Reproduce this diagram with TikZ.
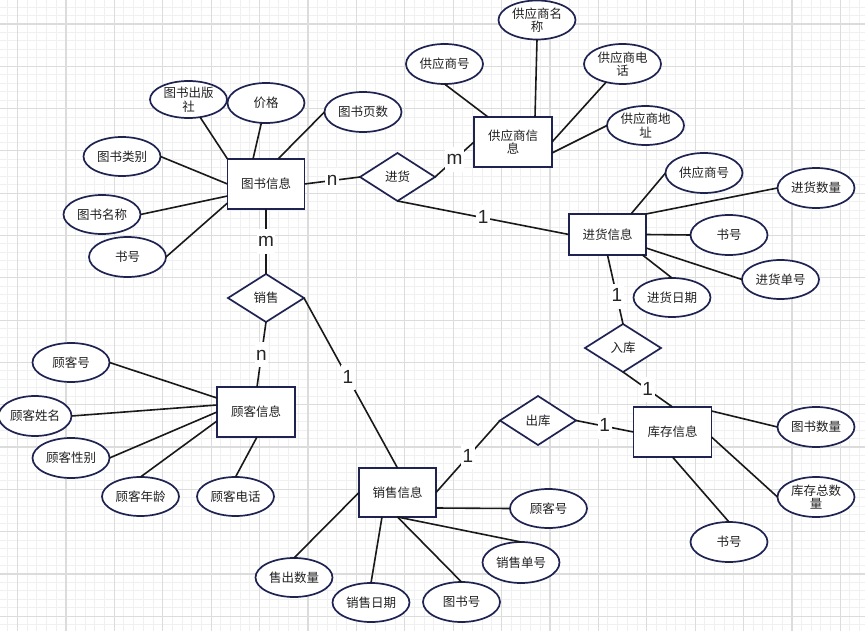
\documentclass[tikz,border=0pt]{standalone}
\usepackage{fontspec}
\newfontfamily\cjk{Noto Sans CJK SC}
\newfontfamily\lab{Liberation Sans}
\usetikzlibrary{shapes.geometric}
\definecolor{ernavy}{HTML}{1E2351}
\definecolor{gridmin}{HTML}{F0F0F0}
\definecolor{gridmaj}{HTML}{DCDCDC}
\definecolor{txt}{HTML}{222222}
\begin{document}
\begin{tikzpicture}[x=1pt,y=-1pt,
 cjkfont/.style={font=\cjk\fontsize{12.5}{13.5}\selectfont},
 attr/.style={ellipse,draw=ernavy,line width=1.7pt,fill=white,minimum width=77pt,minimum height=39pt,inner sep=0pt,outer sep=0pt,cjkfont,text=txt,align=center},
 ent/.style={rectangle,draw=ernavy,line width=1.8pt,fill=white,minimum width=77pt,minimum height=50pt,inner sep=0pt,outer sep=0pt,cjkfont,text=txt,align=center},
 rel/.style={diamond,draw=ernavy,line width=1.7pt,fill=white,minimum width=76pt,minimum height=48pt,inner sep=0pt,outer sep=0pt,shape aspect=1.58,cjkfont,text=txt},
 conn/.style={draw=black!90,line width=1.6pt},
 card/.style={fill=white,font=\lab\fontsize{19}{19}\selectfont,inner xsep=1.5pt,inner ysep=5pt,text height=13pt,text depth=2pt,text=black!85}
]
\useasboundingbox (0,0) rectangle (865,631);
\begin{scope}
\clip (0,0) rectangle (865,631);
\fill[white] (0,0) rectangle (865,631);
\foreach \k in {-2,...,88} \draw[gridmin,line width=1pt] ({17.5+\k*9.68},0) -- ({17.5+\k*9.68},631);
\foreach \k in {-3,...,72} \draw[gridmin,line width=1pt] (0,{24+\k*8.46}) -- (865,{24+\k*8.46});
\foreach \k in {0,...,17} \draw[gridmaj,line width=1.2pt] ({17.5+\k*48.4},0) -- ({17.5+\k*48.4},631);
\foreach \k in {-1,...,14} \draw[gridmaj,line width=1.2pt] (0,{24+\k*42.3}) -- (865,{24+\k*42.3});

% entities
\node[ent] (tsxx) at (266,184) {图书信息};
\node[ent,minimum width=78pt] (gysxx) at (513,142) {供应商信\\息};
\node[ent,minimum height=41pt] (jhxx) at (607.5,234.5) {进货信息};
\node[ent,minimum width=78pt] (kcxx) at (672.5,432) {库存信息};
\node[ent,minimum height=49pt] (xsxx) at (397.5,492.5) {销售信息};
\node[ent,minimum width=78pt] (gkxx) at (256,412) {顾客信息};

% relations
\node[rel,minimum width=75pt] (jh) at (397.5,177) {进货};
\node[rel] (xs) at (266,298) {销售};
\node[rel] (rk) at (623,348) {入库};
\node[rel,minimum height=49pt] (ck) at (538,420.5) {出库};

% attributes of 图书信息
\node[attr,minimum height=37pt] (acbs) at (188.5,99.5) {图书出版\\社};
\node[attr,minimum height=40pt] (ajg) at (266,103) {价格};
\node[attr,minimum height=40pt] (ays) at (363,112) {图书页数};
\node[attr] (alb) at (122,156.5) {图书类别};
\node[attr] (amc) at (102,214.5) {图书名称};
\node[attr,minimum height=40pt] (ash) at (127.5,257) {书号};

% attributes of 供应商信息
\node[attr,minimum height=40pt] (g1) at (444.5,64) {供应商号};
\node[attr] (g2) at (537,20) {供应商名\\称};
\node[attr,minimum height=40pt] (g3) at (622.5,64) {供应商电\\话};
\node[attr] (g4) at (645.5,125.5) {供应商地\\址};

% attributes of 进货信息
\node[attr,minimum height=40pt] (j1) at (704,173) {供应商号};
\node[attr,minimum height=40pt] (j2) at (816,188) {进货数量};
\node[attr,minimum height=40pt] (j3) at (729,235) {书号};
\node[attr] (j4) at (780.5,279.5) {进货单号};
\node[attr] (j5) at (672,297.5) {进货日期};

% attributes of 库存信息
\node[attr,minimum height=40pt] (k1) at (816,427) {图书数量};
\node[attr,minimum height=40pt] (k2) at (816,497) {库存总数\\量};
\node[attr,minimum height=40pt] (k3) at (729,542) {书号};

% attributes of 销售信息
\node[attr] (s1) at (548.5,508.5) {顾客号};
\node[attr,minimum height=41pt] (s2) at (521,562.5) {销售单号};
\node[attr,minimum height=40pt] (s3) at (461.5,602) {图书号};
\node[attr] (s4) at (371,602.5) {销售日期};
\node[attr] (s5) at (294,577.5) {售出数量};

% attributes of 顾客信息
\node[attr] (c1) at (71,362.5) {顾客号};
\node[attr,minimum width=73pt,minimum height=40pt] (c2) at (35,416) {顾客姓名};
\node[attr,minimum height=40pt] (c3) at (71,458) {顾客性别};
\node[attr] (c4) at (140.5,496.5) {顾客年龄};
\node[attr] (c5) at (235.5,496.5) {顾客电话};

% connectors 图书信息
\draw[conn] (acbs) -- (tsxx.north west);
\draw[conn] (ajg) -- ([xshift=-13pt]tsxx.north);
\draw[conn] (ays.west) -- ([xshift=12pt]tsxx.north);
\draw[conn] (alb.east) -- (tsxx.west);
\draw[conn] (amc.east) -- ([yshift=-12pt]tsxx.west);
\draw[conn] (ash.east) -- ([yshift=-19pt]tsxx.west);

% relationships
\draw[conn] (tsxx.east) -- node[card]{n} (jh.west);
\draw[conn] (tsxx.south) -- node[card]{m} (xs.north);
\draw[conn] (jh.east) -- node[card]{m} (gysxx.west);
\draw[conn] (jh.south) -- node[card]{1} (jhxx.west);
\draw[conn] (jhxx.south) -- node[card,pos=0.6]{1} (rk.north);
\draw[conn] (rk.south) -- node[card]{1} (kcxx.north);
\draw[conn] (ck.east) -- node[card]{1} (kcxx.west);
\draw[conn] (xsxx.east) -- node[card]{1} (ck.west);
\draw[conn] (xs.south) -- node[card]{n} ([xshift=1pt]gkxx.north);
\draw[conn] (xs.east) -- node[card,pos=0.47]{1} (xsxx.north);

% connectors 供应商信息
\draw[conn] (g1.south) -- ([xshift=-25pt]gysxx.north);
\draw[conn] (g2.south) -- ([xshift=22pt]gysxx.north);
\draw[conn] (g3) -- (gysxx.east);
\draw[conn] (g4.west) -- ([yshift=-11pt]gysxx.east);

% connectors 进货信息
\draw[conn] (j1.west) -- ([xshift=23.5pt]jhxx.north);
\draw[conn] (j2.west) -- (jhxx.north east);
\draw[conn] (j3.west) -- (jhxx.east);
\draw[conn] (j4.west) -- ([yshift=-13.5pt]jhxx.east);
\draw[conn] (j5.north) -- ([xshift=35pt]jhxx.south);

% connectors 库存信息
\draw[conn] (k1.west) -- ([yshift=21pt]kcxx.east);
\draw[conn] (k2.west) -- ([yshift=-5pt]kcxx.east);
\draw[conn] (k3.north) -- (kcxx.south);

% connectors 销售信息
\draw[conn] (s1.west) -- ([yshift=-15.5pt]xsxx.east);
\draw[conn] (s2.north) -- (xsxx.south);
\draw[conn] (s3.north) -- (xsxx.south);
\draw[conn] (s4.north) -- ([xshift=-15.5pt]xsxx.south);
\draw[conn] (s5.north) -- (xsxx.west);

% connectors 顾客信息
\draw[conn] (c1.east) -- ([yshift=14pt]gkxx.west);
\draw[conn] (c2.east) -- ([yshift=7pt]gkxx.west);
\draw[conn] (c3.east) -- (gkxx.west);
\draw[conn] (c4.north) -- ([yshift=-9pt]gkxx.west);
\draw[conn] (c5.north) -- ([xshift=1pt]gkxx.south);
\end{scope}
\end{tikzpicture}
\end{document}
